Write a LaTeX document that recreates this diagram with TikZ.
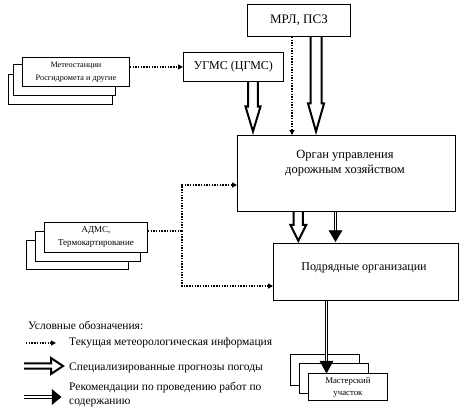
\documentclass[tikz,border=0pt]{standalone}
\usepackage{fontspec}
\setmainfont{Liberation Serif}
\usetikzlibrary{arrows.meta,calc}
\tikzset{
  box/.style={draw, line width=0.9pt, fill=white, inner sep=0pt, anchor=north west},
  txt/.style={font=\fontsize{12}{15}\selectfont, align=center, inner sep=0pt},
  legtxt/.style={font=\fontsize{11.5}{14}\selectfont, align=left, inner sep=0pt, anchor=west},
  sm/.style={font=\fontsize{8}{13}\selectfont, align=center},
  dotline/.style={line width=1.4pt, dash pattern=on 1.4pt off 1.3pt},
  dotl/.style={dotline, -{Triangle[length=5pt,width=5pt]}},
  hollowline/.style={line width=2pt, line join=miter, miter limit=10},
  solidshaft/.style={line width=1.1pt, double=white, double distance=1.6pt},
  solidhead/.style={fill=black, draw=black, line width=0.5pt, line join=miter},
}
\newcommand\hollowarrow[5]{%
  \path ($(#2)!#5!(#1)$) coordinate (hb);
  \draw[hollowline] ($(#1)!#3!-90:(#2)$) -- ($(hb)!#3!-90:(#2)$) -- ($(hb)!#4!-90:(#2)$) -- (#2) -- ($(hb)!#4!90:(#2)$) -- ($(hb)!#3!90:(#2)$) -- ($(#1)!#3!90:(#2)$);
}
\newcommand\solidarrow[4]{%
  \path ($(#2)!#4!(#1)$) coordinate (hb);
  \draw[solidshaft] (#1) -- (hb);
  \path[solidhead] ($(hb)!#3!-90:(#2)$) -- (#2) -- ($(hb)!#3!90:(#2)$) -- cycle;
}
\begin{document}
\begin{tikzpicture}[x=1pt,y=-1pt]
\useasboundingbox (0,0) rectangle (465,409);
% Meteostations stack
\node[box, minimum width=104pt, minimum height=30pt] (metc) at (8,74) {};
\node[box, minimum width=102pt, minimum height=31pt] (metb) at (13,64) {};
\node[box, minimum width=107pt, minimum height=29pt, sm, font=\fontsize{8.2}{13}\selectfont] (met) at (22,57) {Метеостанции\\Росгидромета и другие};
% main boxes
\node[box, minimum width=100pt, minimum height=29pt, txt] (ugms) at (183,52) {УГМС (ЦГМС)};
\node[box, minimum width=103pt, minimum height=32pt, txt, font=\fontsize{13}{15}\selectfont] (mrl) at (247,4) {МРЛ, ПСЗ};
\node[box, minimum width=218pt, minimum height=76pt] (organ) at (237,135) {};
\node[txt, font=\fontsize{12.5}{15.5}\selectfont] (organt) at (345,163) {Орган управления\\дорожным хозяйством};
\node[box, minimum width=185pt, minimum height=57pt] (podr) at (273,243) {};
\node[txt] (podrt) at (364,268) {Подрядные организации};
% ADMS stack
\node[box, minimum width=102pt, minimum height=29pt] (admsc) at (26,240) {};
\node[box, minimum width=105pt, minimum height=30pt] (admsb) at (35,231) {};
\node[box, minimum width=103pt, minimum height=30pt, sm, font=\fontsize{9}{13}\selectfont] (adms) at (44,222) {АДМС,\\Термокартирование};
% Master stack
\node[box, minimum width=69pt, minimum height=31pt] (mastc) at (290,354) {};
\node[box, minimum width=69pt, minimum height=30pt] (mastb) at (299,363) {};
\node[box, minimum width=79pt, minimum height=27pt, sm, font=\fontsize{8.8}{12}\selectfont] (mast) at (308,373) {Мастерский\\участок};

% dotted connectors
\draw[dotl] (met.east |- ugms.west) -- (ugms.west);
\coordinate (dx) at (292,0);
\draw[dotl] (dx |- mrl.south) -- (dx |- organ.north);
\coordinate (j) at (182,231);
\coordinate (ja) at (182,185);
\coordinate (jb) at (182,286);
\draw[dotline] (j -| adms.east) -- (j);
\draw[dotl] (j) -- (ja) -- (ja -| organ.west);
\draw[dotl] (j) -- (jb) -- (jb -| podr.west);

% hollow arrows
\coordinate (h1) at (253,0);
\coordinate (h1s) at (h1 |- ugms.south);
\coordinate (h1t) at ($(h1 |- organ.north)+(0,3.5pt)$);
\hollowarrow{h1s}{h1t}{4.8pt}{7.5pt}{25pt}
\coordinate (h2) at (316,0);
\coordinate (h2s) at (h2 |- mrl.south);
\coordinate (h2t) at ($(h2 |- organ.north)+(0,3.5pt)$);
\hollowarrow{h2s}{h2t}{5.5pt}{8pt}{28pt}
\coordinate (h3) at (298.3,0);
\coordinate (h3s) at (h3 |- organ.south);
\coordinate (h3t) at ($(h3 |- podr.north)+(0,2.2pt)$);
\hollowarrow{h3s}{h3t}{4.6pt}{8pt}{16pt}

% solid arrows
\coordinate (s1) at (335.5,0);
\coordinate (s1s) at (s1 |- organ.south);
\coordinate (s1t) at ($(s1 |- podr.north)+(0,1.5pt)$);
\solidarrow{s1s}{s1t}{6.5pt}{11pt}
\coordinate (s2) at (326.5,0);
\coordinate (s2s) at (s2 |- podr.south);
\coordinate (s2t) at (s2 |- mast.north);
\solidarrow{s2s}{s2t}{6.5pt}{12pt}

% legend
\node[legtxt] (leg) at (28,325) {Условные обозначения:};
\coordinate (l1a) at (26,343);
\coordinate (l1b) at (56,343);
\draw[dotl] (l1a) -- (l1b);
\node[legtxt] (l1) at (69,343) {Текущая метеорологическая информация};
\coordinate (l2a) at (24,366);
\coordinate (l2b) at (63,366);
\hollowarrow{l2a}{l2b}{2.6pt}{8pt}{12pt}
\node[legtxt] (l2) at (69,368) {Специализированные прогнозы погоды};
\coordinate (l3a) at (24,397);
\coordinate (l3b) at (61,397);
\solidarrow{l3a}{l3b}{7.5pt}{9pt}
\node[legtxt] (l3) at (69,395) {Рекомендации по проведению работ по\\содержанию};
\end{tikzpicture}
\end{document}
